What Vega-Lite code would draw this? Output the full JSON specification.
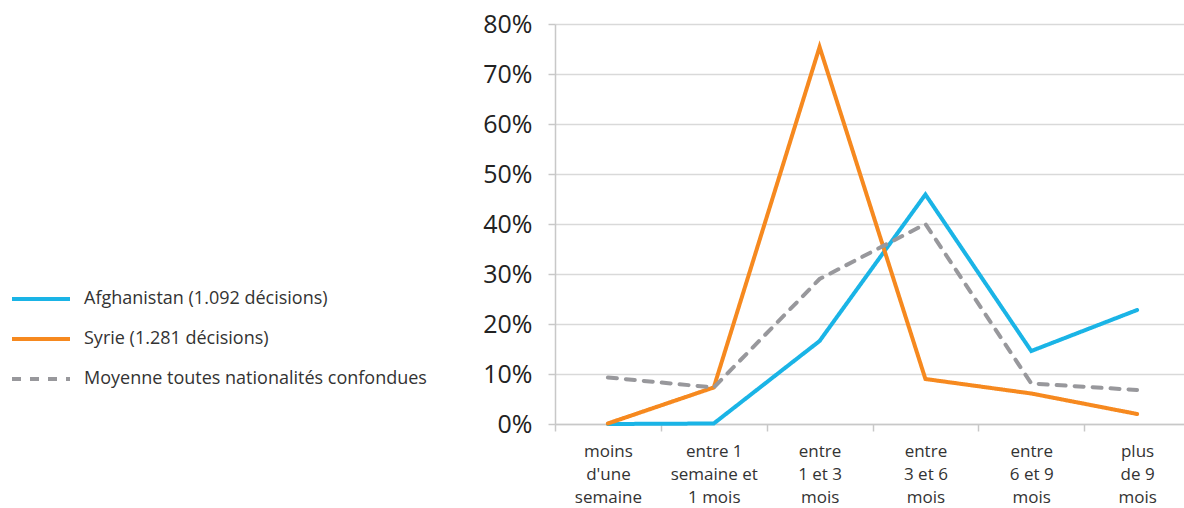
{
  "$schema": "https://vega.github.io/schema/vega-lite/v6.json",
  "autosize": {"type": "none"},
  "width": 635,
  "height": 400,
  "padding": {"left": 555, "top": 24, "right": 0, "bottom": 84},
  "background": "white",
  "data": {
    "values": [
      {"duree": "moins d'une semaine", "serie": "Afghanistan (1.092 décisions)", "pct": 0},
      {"duree": "entre 1 semaine et 1 mois", "serie": "Afghanistan (1.092 décisions)", "pct": 0.1},
      {"duree": "entre 1 et 3 mois", "serie": "Afghanistan (1.092 décisions)", "pct": 16.6},
      {"duree": "entre 3 et 6 mois", "serie": "Afghanistan (1.092 décisions)", "pct": 45.9},
      {"duree": "entre 6 et 9 mois", "serie": "Afghanistan (1.092 décisions)", "pct": 14.6},
      {"duree": "plus de 9 mois", "serie": "Afghanistan (1.092 décisions)", "pct": 22.8},
      {"duree": "moins d'une semaine", "serie": "Syrie (1.281 décisions)", "pct": 0.1},
      {"duree": "entre 1 semaine et 1 mois", "serie": "Syrie (1.281 décisions)", "pct": 7.3},
      {"duree": "entre 1 et 3 mois", "serie": "Syrie (1.281 décisions)", "pct": 75.4},
      {"duree": "entre 3 et 6 mois", "serie": "Syrie (1.281 décisions)", "pct": 9.0},
      {"duree": "entre 6 et 9 mois", "serie": "Syrie (1.281 décisions)", "pct": 6.1},
      {"duree": "plus de 9 mois", "serie": "Syrie (1.281 décisions)", "pct": 2.0},
      {"duree": "moins d'une semaine", "serie": "Moyenne toutes nationalités confondues", "pct": 9.3},
      {"duree": "entre 1 semaine et 1 mois", "serie": "Moyenne toutes nationalités confondues", "pct": 7.3},
      {"duree": "entre 1 et 3 mois", "serie": "Moyenne toutes nationalités confondues", "pct": 29.0},
      {"duree": "entre 3 et 6 mois", "serie": "Moyenne toutes nationalités confondues", "pct": 40.0},
      {"duree": "entre 6 et 9 mois", "serie": "Moyenne toutes nationalités confondues", "pct": 8.1},
      {"duree": "plus de 9 mois", "serie": "Moyenne toutes nationalités confondues", "pct": 6.8}
    ]
  },
  "mark": {"type": "line", "strokeWidth": 4, "strokeCap": "round", "strokeJoin": "miter"},
  "encoding": {
    "x": {
      "field": "duree",
      "type": "ordinal",
      "sort": null,
      "bandPosition": 0.5,
      "title": null,
      "scale": {"type": "band", "paddingInner": 0, "paddingOuter": 0},
      "axis": {
        "labelAngle": 0,
        "tickBand": "extent",
        "domainColor": "#c8c8c8",
        "domainWidth": 1.5,
        "tickColor": "#c8c8c8",
        "tickWidth": 1.5,
        "tickSize": 7,
        "labelFont": "Open Sans",
        "labelFontSize": 17,
        "labelColor": "#333333",
        "labelPadding": 12,
        "labelLineHeight": 23,
        "labelBaseline": "top",
        "labelExpr": "datum.value == \"moins d'une semaine\" ? ['moins', \"d'une\", 'semaine'] : datum.value == 'entre 1 semaine et 1 mois' ? ['entre 1', 'semaine et', '1 mois'] : datum.value == 'entre 1 et 3 mois' ? ['entre', '1 et 3', 'mois'] : datum.value == 'entre 3 et 6 mois' ? ['entre', '3 et 6', 'mois'] : datum.value == 'entre 6 et 9 mois' ? ['entre', '6 et 9', 'mois'] : datum.value == 'plus de 9 mois' ? ['plus', 'de 9', 'mois'] : ''"
      }
    },
    "y": {
      "field": "pct",
      "type": "quantitative",
      "title": null,
      "scale": {"domain": [0, 80], "nice": false, "zero": true},
      "axis": {
        "values": [0, 10, 20, 30, 40, 50, 60, 70, 80],
        "labelExpr": "datum.value + '%'",
        "grid": true,
        "gridColor": "#d9d9d9",
        "gridWidth": 1.5,
        "domainColor": "#c8c8c8",
        "domainWidth": 1.5,
        "tickColor": "#c8c8c8",
        "tickWidth": 1.5,
        "tickSize": 7,
        "labelFont": "Open Sans",
        "labelFontSize": 25,
        "labelColor": "#222222",
        "labelPadding": 16
      }
    },
    "color": {
      "field": "serie",
      "type": "nominal",
      "title": null,
      "scale": {
        "domain": ["Afghanistan (1.092 décisions)", "Syrie (1.281 décisions)", "Moyenne toutes nationalités confondues"],
        "range": ["#1ab4e6", "#f6891f", "#98989c"]
      },
      "legend": {
        "orient": "none",
        "legendX": -545,
        "legendY": 244,
        "symbolType": "stroke",
        "symbolSize": 3364,
        "symbolStrokeWidth": 4,
        "labelFont": "Open Sans",
        "labelFontSize": 18,
        "labelColor": "#333333",
        "labelOffset": 12,
        "rowPadding": 0,
        "labelLimit": 400
      }
    },
    "strokeDash": {
      "field": "serie",
      "type": "nominal",
      "title": null,
      "scale": {
        "domain": ["Afghanistan (1.092 décisions)", "Syrie (1.281 décisions)", "Moyenne toutes nationalités confondues"],
        "range": [[1, 0], [1, 0], [9, 9]]
      }
    }
  },
  "config": {
    "view": {"stroke": null},
    "font": "Open Sans"
  }
}
